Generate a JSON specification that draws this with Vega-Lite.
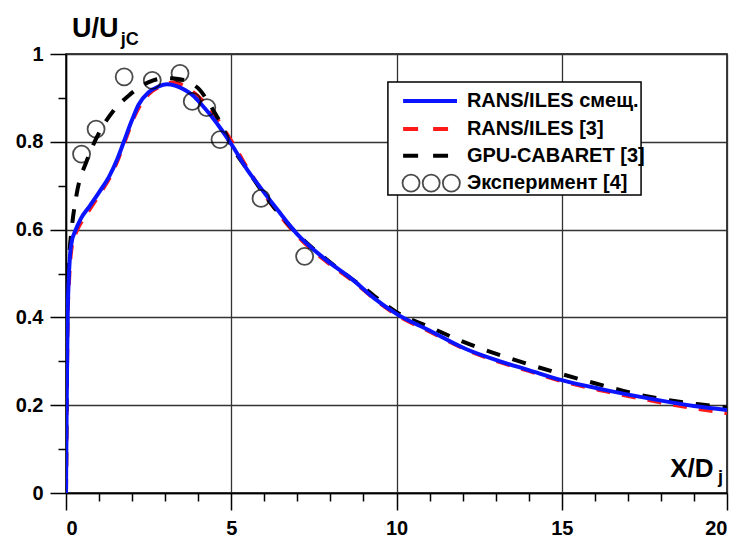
{
  "$schema": "https://vega.github.io/schema/vega-lite/v6.json",
  "autosize": "none",
  "width": 661,
  "height": 439,
  "padding": {"left": 66, "top": 54, "right": 13, "bottom": 44},
  "background": "white",
  "config": {
    "view": {"stroke": "black", "strokeWidth": 1.5},
    "font": "Liberation Sans",
    "axis": {
      "labelFont": "Liberation Sans",
      "labelFontWeight": "bold",
      "labelFontSize": 20,
      "labelColor": "black",
      "labelOverlap": false,
      "domainColor": "black",
      "domainWidth": 1.5,
      "tickColor": "black",
      "tickWidth": 1.5,
      "gridColor": "#333333",
      "gridWidth": 1.3,
      "title": null
    }
  },
  "datasets": {
    "curves": [
      {"series": "RANS/ILES смещ.", "x": 0, "y": 0},
      {"series": "RANS/ILES смещ.", "x": 0.01, "y": 0.1},
      {"series": "RANS/ILES смещ.", "x": 0.02, "y": 0.2},
      {"series": "RANS/ILES смещ.", "x": 0.035, "y": 0.3},
      {"series": "RANS/ILES смещ.", "x": 0.05, "y": 0.4},
      {"series": "RANS/ILES смещ.", "x": 0.08, "y": 0.48},
      {"series": "RANS/ILES смещ.", "x": 0.12, "y": 0.54},
      {"series": "RANS/ILES смещ.", "x": 0.18, "y": 0.575},
      {"series": "RANS/ILES смещ.", "x": 0.27, "y": 0.595},
      {"series": "RANS/ILES смещ.", "x": 0.45, "y": 0.625},
      {"series": "RANS/ILES смещ.", "x": 0.7, "y": 0.652},
      {"series": "RANS/ILES смещ.", "x": 1.0, "y": 0.685},
      {"series": "RANS/ILES смещ.", "x": 1.3, "y": 0.72},
      {"series": "RANS/ILES смещ.", "x": 1.55, "y": 0.76},
      {"series": "RANS/ILES смещ.", "x": 1.75, "y": 0.8},
      {"series": "RANS/ILES смещ.", "x": 2.0, "y": 0.85},
      {"series": "RANS/ILES смещ.", "x": 2.2, "y": 0.885},
      {"series": "RANS/ILES смещ.", "x": 2.5, "y": 0.913},
      {"series": "RANS/ILES смещ.", "x": 2.8, "y": 0.926},
      {"series": "RANS/ILES смещ.", "x": 3.05, "y": 0.931},
      {"series": "RANS/ILES смещ.", "x": 3.3, "y": 0.928},
      {"series": "RANS/ILES смещ.", "x": 3.6, "y": 0.918},
      {"series": "RANS/ILES смещ.", "x": 3.85, "y": 0.905},
      {"series": "RANS/ILES смещ.", "x": 4.1, "y": 0.885},
      {"series": "RANS/ILES смещ.", "x": 4.36, "y": 0.862},
      {"series": "RANS/ILES смещ.", "x": 4.7, "y": 0.828},
      {"series": "RANS/ILES смещ.", "x": 5.0, "y": 0.795},
      {"series": "RANS/ILES смещ.", "x": 5.47, "y": 0.738},
      {"series": "RANS/ILES смещ.", "x": 5.9, "y": 0.694},
      {"series": "RANS/ILES смещ.", "x": 6.4, "y": 0.645},
      {"series": "RANS/ILES смещ.", "x": 6.98, "y": 0.591},
      {"series": "RANS/ILES смещ.", "x": 7.8, "y": 0.535},
      {"series": "RANS/ILES смещ.", "x": 8.69, "y": 0.485},
      {"series": "RANS/ILES смещ.", "x": 9.3, "y": 0.445},
      {"series": "RANS/ILES смещ.", "x": 10.0, "y": 0.408},
      {"series": "RANS/ILES смещ.", "x": 11.0, "y": 0.37},
      {"series": "RANS/ILES смещ.", "x": 12.1, "y": 0.328},
      {"series": "RANS/ILES смещ.", "x": 13.13, "y": 0.3},
      {"series": "RANS/ILES смещ.", "x": 14.0, "y": 0.28},
      {"series": "RANS/ILES смещ.", "x": 15.0, "y": 0.257},
      {"series": "RANS/ILES смещ.", "x": 16.3, "y": 0.235},
      {"series": "RANS/ILES смещ.", "x": 17.67, "y": 0.215},
      {"series": "RANS/ILES смещ.", "x": 19.0, "y": 0.198},
      {"series": "RANS/ILES смещ.", "x": 20.0, "y": 0.189},

      {"series": "RANS/ILES [3]", "x": 0, "y": 0},
      {"series": "RANS/ILES [3]", "x": 0.01, "y": 0.1},
      {"series": "RANS/ILES [3]", "x": 0.02, "y": 0.2},
      {"series": "RANS/ILES [3]", "x": 0.035, "y": 0.3},
      {"series": "RANS/ILES [3]", "x": 0.05, "y": 0.4},
      {"series": "RANS/ILES [3]", "x": 0.09, "y": 0.48},
      {"series": "RANS/ILES [3]", "x": 0.14, "y": 0.54},
      {"series": "RANS/ILES [3]", "x": 0.2, "y": 0.572},
      {"series": "RANS/ILES [3]", "x": 0.3, "y": 0.593},
      {"series": "RANS/ILES [3]", "x": 0.5, "y": 0.622},
      {"series": "RANS/ILES [3]", "x": 0.75, "y": 0.65},
      {"series": "RANS/ILES [3]", "x": 1.05, "y": 0.685},
      {"series": "RANS/ILES [3]", "x": 1.35, "y": 0.722},
      {"series": "RANS/ILES [3]", "x": 1.6, "y": 0.765},
      {"series": "RANS/ILES [3]", "x": 1.8, "y": 0.805},
      {"series": "RANS/ILES [3]", "x": 2.05, "y": 0.855},
      {"series": "RANS/ILES [3]", "x": 2.3, "y": 0.89},
      {"series": "RANS/ILES [3]", "x": 2.6, "y": 0.915},
      {"series": "RANS/ILES [3]", "x": 2.9, "y": 0.928},
      {"series": "RANS/ILES [3]", "x": 3.25, "y": 0.935},
      {"series": "RANS/ILES [3]", "x": 3.6, "y": 0.926},
      {"series": "RANS/ILES [3]", "x": 3.9, "y": 0.91},
      {"series": "RANS/ILES [3]", "x": 4.15, "y": 0.892},
      {"series": "RANS/ILES [3]", "x": 4.45, "y": 0.865},
      {"series": "RANS/ILES [3]", "x": 4.8, "y": 0.826},
      {"series": "RANS/ILES [3]", "x": 5.1, "y": 0.79},
      {"series": "RANS/ILES [3]", "x": 5.5, "y": 0.738},
      {"series": "RANS/ILES [3]", "x": 5.9, "y": 0.692},
      {"series": "RANS/ILES [3]", "x": 6.4, "y": 0.64},
      {"series": "RANS/ILES [3]", "x": 7.0, "y": 0.586},
      {"series": "RANS/ILES [3]", "x": 7.8, "y": 0.532},
      {"series": "RANS/ILES [3]", "x": 8.7, "y": 0.482},
      {"series": "RANS/ILES [3]", "x": 9.3, "y": 0.444},
      {"series": "RANS/ILES [3]", "x": 10.0, "y": 0.406},
      {"series": "RANS/ILES [3]", "x": 11.0, "y": 0.368},
      {"series": "RANS/ILES [3]", "x": 12.1, "y": 0.327},
      {"series": "RANS/ILES [3]", "x": 13.13, "y": 0.298},
      {"series": "RANS/ILES [3]", "x": 14.0, "y": 0.278},
      {"series": "RANS/ILES [3]", "x": 15.0, "y": 0.255},
      {"series": "RANS/ILES [3]", "x": 16.3, "y": 0.232},
      {"series": "RANS/ILES [3]", "x": 17.67, "y": 0.211},
      {"series": "RANS/ILES [3]", "x": 19.0, "y": 0.193},
      {"series": "RANS/ILES [3]", "x": 20.0, "y": 0.182},

      {"series": "GPU-CABARET [3]", "x": 0, "y": 0},
      {"series": "GPU-CABARET [3]", "x": 0.02, "y": 0.25},
      {"series": "GPU-CABARET [3]", "x": 0.05, "y": 0.45},
      {"series": "GPU-CABARET [3]", "x": 0.1, "y": 0.54},
      {"series": "GPU-CABARET [3]", "x": 0.17, "y": 0.6},
      {"series": "GPU-CABARET [3]", "x": 0.32, "y": 0.68},
      {"series": "GPU-CABARET [3]", "x": 0.63, "y": 0.757},
      {"series": "GPU-CABARET [3]", "x": 0.93, "y": 0.81},
      {"series": "GPU-CABARET [3]", "x": 1.43, "y": 0.87},
      {"series": "GPU-CABARET [3]", "x": 1.94, "y": 0.908},
      {"series": "GPU-CABARET [3]", "x": 2.3, "y": 0.928},
      {"series": "GPU-CABARET [3]", "x": 2.64, "y": 0.94},
      {"series": "GPU-CABARET [3]", "x": 3.0, "y": 0.945},
      {"series": "GPU-CABARET [3]", "x": 3.4, "y": 0.943},
      {"series": "GPU-CABARET [3]", "x": 3.75, "y": 0.935},
      {"series": "GPU-CABARET [3]", "x": 4.05, "y": 0.918},
      {"series": "GPU-CABARET [3]", "x": 4.35, "y": 0.885},
      {"series": "GPU-CABARET [3]", "x": 4.66, "y": 0.845},
      {"series": "GPU-CABARET [3]", "x": 5.0, "y": 0.792},
      {"series": "GPU-CABARET [3]", "x": 5.5, "y": 0.735},
      {"series": "GPU-CABARET [3]", "x": 6.0, "y": 0.68},
      {"series": "GPU-CABARET [3]", "x": 7.0, "y": 0.59},
      {"series": "GPU-CABARET [3]", "x": 8.0, "y": 0.525},
      {"series": "GPU-CABARET [3]", "x": 9.0, "y": 0.468},
      {"series": "GPU-CABARET [3]", "x": 10.0, "y": 0.412},
      {"series": "GPU-CABARET [3]", "x": 11.0, "y": 0.378},
      {"series": "GPU-CABARET [3]", "x": 12.2, "y": 0.339},
      {"series": "GPU-CABARET [3]", "x": 13.5, "y": 0.305},
      {"series": "GPU-CABARET [3]", "x": 14.76, "y": 0.276},
      {"series": "GPU-CABARET [3]", "x": 16.0, "y": 0.25},
      {"series": "GPU-CABARET [3]", "x": 17.4, "y": 0.223},
      {"series": "GPU-CABARET [3]", "x": 19.15, "y": 0.202},
      {"series": "GPU-CABARET [3]", "x": 20.0, "y": 0.195}
    ],
    "experiment": [
      {"x": 0.47, "y": 0.772},
      {"x": 0.91, "y": 0.829},
      {"x": 1.76, "y": 0.948},
      {"x": 2.61, "y": 0.94},
      {"x": 3.45, "y": 0.956},
      {"x": 3.82, "y": 0.892},
      {"x": 4.26, "y": 0.878},
      {"x": 4.66, "y": 0.805},
      {"x": 5.9, "y": 0.671},
      {"x": 7.22, "y": 0.539}
    ],
    "one": [{}]
  },
  "layer": [
    {
      "data": {"name": "curves"},
      "transform": [{"filter": "datum.series === 'RANS/ILES [3]'"}],
      "mark": {"type": "line", "color": "#ff1a1a", "strokeWidth": 4, "strokeDash": [14, 12], "interpolate": "monotone", "clip": true},
      "encoding": {
        "x": {
          "field": "x", "type": "quantitative",
          "scale": {"domain": [0, 20], "nice": false},
          "axis": {
            "values": [0, 1, 2, 3, 4, 5, 6, 7, 8, 9, 10, 11, 12, 13, 14, 15, 16, 17, 18, 19, 20],
            "tickCount": 30,
            "labelExpr": "datum.value % 5 === 0 ? format(datum.value, '~g') : ''",
            "labelPadding": 8,
            "tickSize": {"condition": {"test": "datum.value % 5 === 0", "value": 17}, "value": 8},
            "grid": true,
            "gridOpacity": {"condition": {"test": "datum.value % 5 === 0", "value": 1}, "value": 0}
          }
        },
        "y": {
          "field": "y", "type": "quantitative",
          "scale": {"domain": [0, 1], "nice": false},
          "axis": {
            "values": [0, 0.1, 0.2, 0.3, 0.4, 0.5, 0.6, 0.7, 0.8, 0.9, 1],
            "tickCount": 20,
            "labelExpr": "round(datum.value * 10) % 2 === 0 ? format(datum.value, '~g') : ''",
            "labelPadding": 7,
            "tickSize": {"condition": {"test": "round(datum.value * 10) % 2 === 0", "value": 16}, "value": 8},
            "grid": true,
            "gridOpacity": {"condition": {"test": "round(datum.value * 10) % 2 === 0", "value": 1}, "value": 0}
          }
        }
      }
    },
    {
      "data": {"name": "curves"},
      "transform": [{"filter": "datum.series === 'GPU-CABARET [3]'"}],
      "mark": {"type": "line", "color": "black", "strokeWidth": 4, "strokeDash": [14, 13], "interpolate": "monotone", "clip": true},
      "encoding": {
        "x": {"field": "x", "type": "quantitative"},
        "y": {"field": "y", "type": "quantitative"}
      }
    },
    {
      "data": {"name": "curves"},
      "transform": [{"filter": "datum.series === 'RANS/ILES смещ.'"}],
      "mark": {"type": "line", "color": "#0a14ff", "strokeWidth": 4, "interpolate": "monotone", "clip": true},
      "encoding": {
        "x": {"field": "x", "type": "quantitative"},
        "y": {"field": "y", "type": "quantitative"}
      }
    },
    {
      "data": {"name": "experiment"},
      "mark": {"type": "point", "shape": "circle", "filled": false, "stroke": "black", "strokeWidth": 1.8, "size": 290},
      "encoding": {
        "x": {"field": "x", "type": "quantitative"},
        "y": {"field": "y", "type": "quantitative"}
      }
    },
    {
      "data": {"name": "one"},
      "mark": {"type": "rect", "fill": "white", "stroke": "black", "strokeWidth": 1.5},
      "encoding": {
        "x": {"datum": 9.74}, "x2": {"datum": 17.4},
        "y": {"datum": 0.936}, "y2": {"datum": 0.679}
      }
    },
    {
      "data": {"name": "one"},
      "mark": {"type": "rule", "color": "#0a14ff", "strokeWidth": 4},
      "encoding": {"x": {"datum": 10.2}, "x2": {"datum": 11.83}, "y": {"datum": 0.893}}
    },
    {
      "data": {"name": "one"},
      "mark": {"type": "rule", "color": "#ff1a1a", "strokeWidth": 4, "strokeDash": [15, 15]},
      "encoding": {"x": {"datum": 10.2}, "x2": {"datum": 11.56}, "y": {"datum": 0.829}}
    },
    {
      "data": {"name": "one"},
      "mark": {"type": "rule", "color": "black", "strokeWidth": 4, "strokeDash": [15, 15]},
      "encoding": {"x": {"datum": 10.2}, "x2": {"datum": 11.56}, "y": {"datum": 0.768}}
    },
    {
      "data": {"values": [{"x": 10.44}, {"x": 11.05}, {"x": 11.66}]},
      "mark": {"type": "point", "shape": "circle", "filled": false, "stroke": "black", "strokeWidth": 1.8, "size": 290},
      "encoding": {"x": {"field": "x", "type": "quantitative"}, "y": {"datum": 0.706}}
    },
    {
      "data": {"name": "one"},
      "mark": {"type": "text", "text": "RANS/ILES смещ.", "align": "left", "baseline": "middle", "fontSize": 20, "fontWeight": "bold", "font": "Liberation Sans"},
      "encoding": {"x": {"datum": 12.13}, "y": {"datum": 0.893}}
    },
    {
      "data": {"name": "one"},
      "mark": {"type": "text", "text": "RANS/ILES [3]", "align": "left", "baseline": "middle", "fontSize": 20, "fontWeight": "bold", "font": "Liberation Sans"},
      "encoding": {"x": {"datum": 12.13}, "y": {"datum": 0.829}}
    },
    {
      "data": {"name": "one"},
      "mark": {"type": "text", "text": "GPU-CABARET [3]", "align": "left", "baseline": "middle", "fontSize": 20, "fontWeight": "bold", "font": "Liberation Sans"},
      "encoding": {"x": {"datum": 12.13}, "y": {"datum": 0.768}}
    },
    {
      "data": {"name": "one"},
      "mark": {"type": "text", "text": "Эксперимент [4]", "align": "left", "baseline": "middle", "fontSize": 20, "fontWeight": "bold", "font": "Liberation Sans"},
      "encoding": {"x": {"datum": 12.13}, "y": {"datum": 0.706}}
    },
    {
      "data": {"name": "one"},
      "mark": {"type": "text", "text": "U/U", "align": "left", "baseline": "alphabetic", "fontSize": 27, "fontWeight": "bold", "font": "Liberation Sans"},
      "encoding": {"x": {"datum": 0.18}, "y": {"datum": 1.039}}
    },
    {
      "data": {"name": "one"},
      "mark": {"type": "text", "text": "jC", "align": "left", "baseline": "alphabetic", "fontSize": 18, "fontWeight": "bold", "font": "Liberation Sans"},
      "encoding": {"x": {"datum": 1.66}, "y": {"datum": 1.0205}}
    },
    {
      "data": {"name": "one"},
      "mark": {"type": "text", "text": "X/D", "align": "left", "baseline": "alphabetic", "fontSize": 26, "fontWeight": "bold", "font": "Liberation Sans"},
      "encoding": {"x": {"datum": 18.28}, "y": {"datum": 0.037}}
    },
    {
      "data": {"name": "one"},
      "mark": {"type": "text", "text": "j", "align": "left", "baseline": "alphabetic", "fontSize": 18, "fontWeight": "bold", "font": "Liberation Sans"},
      "encoding": {"x": {"datum": 19.73}, "y": {"datum": 0.0235}}
    }
  ]
}
